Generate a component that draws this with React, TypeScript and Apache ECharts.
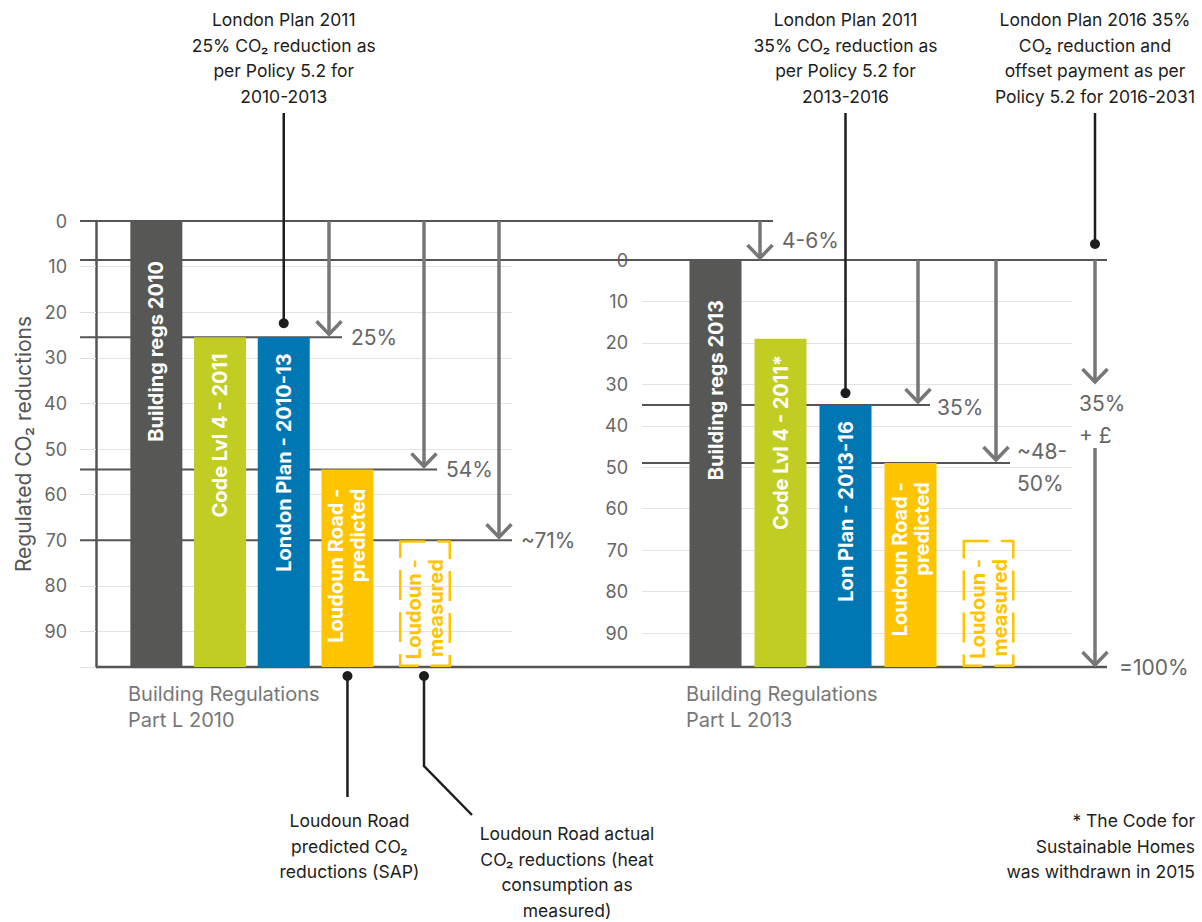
import React, { useEffect, useRef } from 'react';
import * as echarts from 'echarts';

const FONT = 'Inter, "Liberation Sans", sans-serif';

// ---- data ----
const leftCategories = ['Building regs 2010', 'Code Lvl 4 - 2011', 'London Plan - 2010-13', 'Loudoun Road -\npredicted', 'Loudoun -\nmeasured'];
const leftStart = [0, 25.5, 25.5, 54.5, 70];
const rightCategories = ['Building regs 2013', 'Code Lvl 4 - 2011*', 'Lon Plan - 2013-16', 'Loudoun Road -\npredicted', 'Loudoun -\nmeasured'];
const rightStart = [0, 19, 35, 49, 67.5];
const barColors = ['#575756', '#c2cd23', '#0076b3', '#ffc400', '#ffc400'];
const measuredFlags = [false, false, false, false, true];
const LEFT_MAX = 97.8;
const RIGHT_MAX = 98.2;
const leftTargets = [25.5, 54.5, 70];
const leftTargetLabels = ['25%', '54%', '~71%'];
const rightTargets = [35, 49];
const rightTargetLabels = ['35%', '~48-\n50%'];
const yAxisName = 'Regulated CO₂ reductions';

const topNotes = [
  'London Plan 2011\n25% CO₂ reduction as\nper Policy 5.2 for\n2010-2013',
  'London Plan 2011\n35% CO₂ reduction as\nper Policy 5.2 for\n2013-2016',
  'London Plan 2016 35%\nCO₂ reduction and\noffset payment as per\nPolicy 5.2 for 2016-2031',
];
const bottomNotes = [
  'Loudoun Road\npredicted CO₂\nreductions (SAP)',
  'Loudoun Road actual\nCO₂ reductions (heat\nconsumption as\nmeasured)',
];
const footnote = '* The Code for\nSustainable Homes\nwas withdrawn in 2015';
const groupLabels = ['Building Regulations\nPart L 2010', 'Building Regulations\nPart L 2013'];

const GREY = '#777777';
const DARK = '#555555';
const INK = '#1d1d1b';

// bars are split in two groups per panel: the four filled bars, and the dashed "measured" bar
function barSeries(prefix: string, xi: number, yi: number, cats: string[], starts: number[], max: number, offset: number) {
  return [
    {
      type: 'bar', name: prefix + '-base', xAxisIndex: xi, yAxisIndex: yi, stack: prefix, barWidth: 52, silent: true,
      itemStyle: { color: 'rgba(0,0,0,0)' }, data: starts, z: 3,
    },
    {
      type: 'bar', name: prefix, xAxisIndex: xi, yAxisIndex: yi, stack: prefix, barWidth: 52, z: 3,
      data: starts.map((s, j) => {
        const i = j + offset;
        const measured = measuredFlags[i];
        const multi = cats[j].indexOf('\n') >= 0;
        return {
          value: max - s,
          itemStyle: measured
            ? { color: 'rgba(0,0,0,0)', borderColor: barColors[i], borderWidth: 2.5, borderType: [30, 12], borderDashOffset: 5 }
            : { color: barColors[i] },
          label: {
            show: true, position: 'insideTop', distance: i === 0 ? 40 : multi ? 19 : 16, rotate: 90,
            align: 'right', verticalAlign: 'middle', formatter: cats[j],
            color: measured ? barColors[i] : '#ffffff', fontFamily: FONT, fontWeight: 'bold',
            fontSize: 20, lineHeight: 22,
          },
        };
      }),
    },
  ];
}

function buildOption(): any {
  const labelFmt = (v: number) => (Math.abs(v % 10) < 1e-6 ? String(v) : '');
  const hiddenY = (gridIndex: number, max: number) => ({ gridIndex, type: 'value', inverse: true, min: 0, max, show: false });
  return {
    animation: false,
    backgroundColor: '#ffffff',
    grid: [
      { left: 96, top: 221, width: 416, height: 446 },
      { left: 124.5, top: 221, width: 254.8, height: 446 },
      { left: 399, top: 221, width: 52, height: 446 },
      { left: 642, top: 260, width: 430, height: 407 },
      { left: 683, top: 260, width: 260, height: 407 },
      { left: 962.5, top: 260, width: 52, height: 407 },
    ],
    xAxis: [
      { gridIndex: 0, type: 'value', min: 0, max: 1, show: false },
      { gridIndex: 1, type: 'category', data: leftCategories.slice(0, 4), show: false },
      { gridIndex: 2, type: 'category', data: leftCategories.slice(4), show: false },
      { gridIndex: 3, type: 'value', min: 0, max: 1, show: false },
      { gridIndex: 4, type: 'category', data: rightCategories.slice(0, 4), show: false },
      { gridIndex: 5, type: 'category', data: rightCategories.slice(4), show: false },
    ],
    yAxis: [
      {
        gridIndex: 0, type: 'value', inverse: true, min: 0, max: LEFT_MAX, interval: 10,
        axisLine: { show: true, lineStyle: { color: DARK, width: 2.5 } },
        axisTick: { show: true, length: 16, lineStyle: { color: '#e0e0e0', width: 1 } },
        axisLabel: { margin: 29, color: '#666', fontSize: 18, fontFamily: FONT, formatter: labelFmt },
        splitLine: { show: true, lineStyle: { color: '#e2e2e2', width: 1 } },
        name: yAxisName, nameLocation: 'middle', nameGap: 62,
        nameTextStyle: { color: '#555', fontSize: 21, fontFamily: FONT },
      },
      hiddenY(1, LEFT_MAX),
      hiddenY(2, LEFT_MAX),
      {
        gridIndex: 3, type: 'value', inverse: true, min: 0, max: RIGHT_MAX, interval: 10,
        axisLine: { show: false }, axisTick: { show: false },
        axisLabel: { margin: 14, color: '#666', fontSize: 18, fontFamily: FONT, formatter: labelFmt },
        splitLine: { show: true, lineStyle: { color: '#e2e2e2', width: 1 } },
      },
      hiddenY(4, RIGHT_MAX),
      hiddenY(5, RIGHT_MAX),
    ],
    series: [
      ...barSeries('left', 1, 1, leftCategories.slice(0, 4), leftStart.slice(0, 4), LEFT_MAX, 0),
      ...barSeries('leftM', 2, 2, leftCategories.slice(4), leftStart.slice(4), LEFT_MAX, 4),
      ...barSeries('right', 4, 4, rightCategories.slice(0, 4), rightStart.slice(0, 4), RIGHT_MAX, 0),
      ...barSeries('rightM', 5, 5, rightCategories.slice(4), rightStart.slice(4), RIGHT_MAX, 4),
    ],
  };
}

function buildGraphics(chart: any) {
  const yL = (v: number) => chart.convertToPixel({ yAxisIndex: 0 }, v) as number;
  const yR = (v: number) => chart.convertToPixel({ yAxisIndex: 3 }, v) as number;
  const xLb = (i: number) => chart.convertToPixel({ xAxisIndex: 1 }, i) as number;
  const xLm = (i: number) => chart.convertToPixel({ xAxisIndex: 2 }, i) as number;
  const xRb = (i: number) => chart.convertToPixel({ xAxisIndex: 4 }, i) as number;
  const g: any[] = [];
  const hline = (x1: number, x2: number, y: number, w = 2) =>
    g.push({ type: 'line', z: 1, silent: true, shape: { x1, y1: y, x2, y2: y }, style: { stroke: DARK, lineWidth: w } });
  const arrow = (x: number, y1: number, tip: number) => {
    g.push({ type: 'line', z: 20, silent: true, shape: { x1: x, y1, x2: x, y2: tip - 1 }, style: { stroke: GREY, lineWidth: 3.5 } });
    g.push({
      type: 'polyline', z: 20, silent: true,
      shape: { points: [[x - 12.5, tip - 13], [x, tip], [x + 12.5, tip - 13]] },
      style: { stroke: GREY, lineWidth: 3.5, fill: 'none', lineJoin: 'miter' },
    });
  };
  const label = (x: number, y: number, text: string, lh = 32) =>
    g.push({
      type: 'text', z: 20, silent: true, x, y,
      style: { text, fill: '#666', fontSize: 21, fontFamily: FONT, align: 'left', verticalAlign: 'middle', lineHeight: lh },
    });
  const note = (x: number, y: number, text: string, align = 'center', fill = INK, size = 17.5, lh = 25.5) =>
    g.push({
      type: 'text', z: 20, silent: true, x, y,
      style: { text, fill, fontSize: size, fontFamily: FONT, align, verticalAlign: 'top', lineHeight: lh },
    });
  const dot = (x: number, y: number) =>
    g.push({ type: 'circle', z: 21, silent: true, shape: { cx: x, cy: y, r: 5 }, style: { fill: INK } });
  const leader = (pts: number[][]) =>
    g.push({ type: 'polyline', z: 21, silent: true, shape: { points: pts }, style: { stroke: INK, lineWidth: 2.5, fill: 'none' } });

  const top0 = yL(0);
  const right0 = yR(0);
  const base = yL(LEFT_MAX);

  // reference lines
  hline(80, 773, top0);
  hline(80, 1107, right0);
  const leftEnds = [342, 437, 512];
  const leftArrowX = [329, 424, 499];
  leftTargets.forEach((v, i) => {
    const y = yL(v);
    hline(80, leftEnds[i], y);
    arrow(leftArrowX[i], top0, y - 3);
    label(leftEnds[i] + 9, y, leftTargetLabels[i]);
  });
  const rightEnds = [930, 1010];
  const rightArrowX = [918, 996];
  rightTargets.forEach((v, i) => {
    const y = yR(v);
    hline(642, rightEnds[i], y);
    arrow(rightArrowX[i], right0, y - 3);
    label(rightEnds[i] + 7, y + (i === 1 ? 4 : 2), rightTargetLabels[i]);
  });
  hline(96, 1107, base, 2.5);

  // 4-6% step between the two baselines
  arrow(760, top0, right0 - 2);
  label(782, (top0 + right0) / 2, '4-6%');

  // 35% + £ to 100%
  const offY = 419;
  arrow(1095, right0, offY - 37);
  label(1079, offY, '35%\n+ £');
  arrow(1095, offY + 29, base - 2);
  label(1119, base, '=100%');

  // top annotations
  const a1x = xLb(2);
  note(a1x, 7, topNotes[0]);
  leader([[a1x, 113], [a1x, yL(leftStart[2]) - 14]]);
  dot(a1x, yL(leftStart[2]) - 14);

  const a2x = xRb(2);
  note(a2x, 7, topNotes[1]);
  leader([[a2x, 113], [a2x, yR(rightStart[2]) - 12]]);
  dot(a2x, yR(rightStart[2]) - 12);

  note(1095, 7, topNotes[2]);
  leader([[1095, 113], [1095, right0 - 16]]);
  dot(1095, right0 - 16);

  // bottom annotations
  const b1x = xLb(3);
  dot(b1x, base + 9);
  leader([[b1x, base + 9], [b1x, 797]]);
  note(b1x + 2, 808, bottomNotes[0]);

  const b2x = xLm(0) - 1;
  dot(b2x, base + 9);
  leader([[b2x, base + 9], [b2x, 766], [b2x + 48, 815]]);
  note(567, 821, bottomNotes[1]);

  note(1195, 808, footnote, 'right');

  // group labels
  note(128, 681, groupLabels[0], 'left', '#777', 20, 26);
  note(686, 681, groupLabels[1], 'left', '#777', 20, 26);

  return g;
}

export default function App() {
  const ref = useRef<HTMLDivElement>(null);
  useEffect(() => {
    const chart = echarts.init(ref.current!, null, { renderer: 'svg' });
    chart.setOption(buildOption());
    chart.setOption({ graphic: buildGraphics(chart) });
    return () => chart.dispose();
  }, []);
  return (
    <div
      ref={ref}
      style={{ position: 'absolute', left: 0, top: 0, width: 1202, height: 922, background: '#fff' }}
    />
  );
}
